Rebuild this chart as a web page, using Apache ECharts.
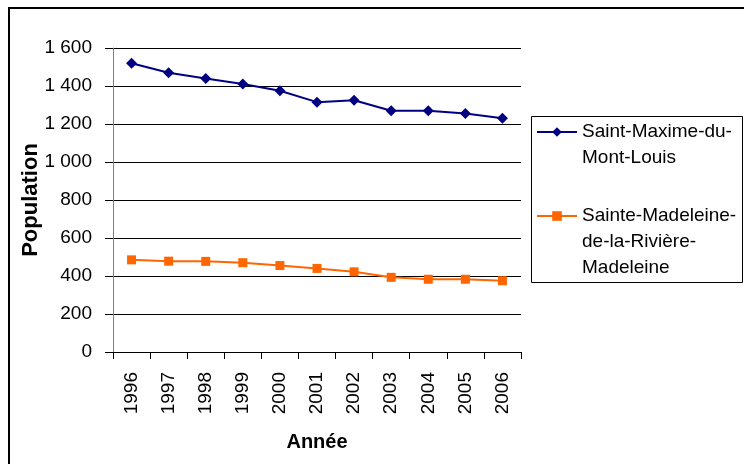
<!DOCTYPE html>
<html>
<head>
<meta charset="utf-8">
<script src="https://cdn.jsdelivr.net/npm/echarts@6/dist/echarts.min.js"></script>
<style>
  html, body { margin: 0; padding: 0; background: #fff; }
  #chart { width: 744px; height: 464px; }
</style>
</head>
<body>
<div id="chart"></div>
<script>
// données
var years = ["1996", "1997", "1998", "1999", "2000", "2001", "2002", "2003", "2004", "2005", "2006"];
var stMaxime = [1520, 1470, 1440, 1410, 1375, 1315, 1325, 1270, 1270, 1255, 1230];
var steMadeleine = [485, 478, 477, 470, 455, 440, 422, 393, 383, 383, 375];
var nameMaxime = "Saint-Maxime-du-Mont-Louis";
var nameMadeleine = "Sainte-Madeleine-de-la-Rivière-Madeleine";

var font = "'Liberation Sans', Arial, sans-serif";

var chart = echarts.init(document.getElementById("chart"));

var option = {
    backgroundColor: "#fff",
    animation: false,
    textStyle: { fontFamily: font, color: "#000" },
    grid: { left: 113, top: 48, right: 223, bottom: 112 },
    graphic: [
        // cadre extérieur
        { type: "rect", shape: { x: 9, y: 8, width: 800, height: 500 },
          style: { fill: "none", stroke: "#000", lineWidth: 2 }, silent: true },
        // cadre de la légende
        { type: "rect", shape: { x: 531.5, y: 116.5, width: 211, height: 166 },
          style: { fill: "none", stroke: "#000", lineWidth: 1 }, silent: true }
    ],
    legend: [
        {
            orient: "vertical", left: 536, top: 93, padding: 0,
            itemWidth: 40, itemHeight: 12, itemGap: 0,
            data: [nameMaxime],
            formatter: function () { return "\nSaint-Maxime-du-\nMont-Louis"; },
            textStyle: { fontFamily: font, fontSize: 19, lineHeight: 26, color: "#000" }
        },
        {
            orient: "vertical", left: 536, top: 151, padding: 0,
            itemWidth: 40, itemHeight: 12, itemGap: 0,
            data: [nameMadeleine],
            formatter: function () { return "\n\nSainte-Madeleine-\nde-la-Rivière-\nMadeleine"; },
            textStyle: { fontFamily: font, fontSize: 19, lineHeight: 26, color: "#000" }
        }
    ],
    xAxis: {
        type: "category",
        data: years,
        boundaryGap: true,
        name: "Année",
        nameLocation: "middle",
        nameGap: 80,
        nameMoveOverlap: false,
        nameTextStyle: { fontFamily: font, fontSize: 20, fontWeight: "bold", color: "#000" },
        axisLine: { lineStyle: { color: "#000", width: 1 } },
        axisTick: { show: true, length: 7, lineStyle: { color: "#000" } },
        axisLabel: { rotate: 90, margin: 20, fontSize: 19, color: "#000", fontFamily: font }
    },
    yAxis: {
        type: "value",
        min: 0, max: 1600, interval: 200,
        name: "Population",
        nameLocation: "middle",
        nameGap: 71,
        nameMoveOverlap: false,
        nameTextStyle: { fontFamily: font, fontSize: 22, fontWeight: "bold", color: "#000" },
        axisLine: { show: true, lineStyle: { color: "#808080", width: 1 } },
        axisTick: { show: true, inside: false, length: 8, lineStyle: { color: "#000" } },
        axisLabel: {
            margin: 21, fontSize: 19, color: "#000", fontFamily: font,
            formatter: function (v) { return String(v).replace(/\B(?=(\d{3})+(?!\d))/g, " "); }
        },
        splitLine: { show: true, lineStyle: { color: "#000", width: 1 } }
    },
    series: [
        {
            name: nameMaxime,
            type: "line",
            data: stMaxime,
            symbol: "diamond",
            symbolSize: 11,
            itemStyle: { color: "#000080" },
            lineStyle: { color: "#000080", width: 2 }
        },
        {
            name: nameMadeleine,
            type: "line",
            data: steMadeleine,
            symbol: "rect",
            symbolSize: 9,
            itemStyle: { color: "#FF6600" },
            lineStyle: { color: "#FF6600", width: 2 }
        }
    ]
};

chart.setOption(option);
</script>
</body>
</html>
